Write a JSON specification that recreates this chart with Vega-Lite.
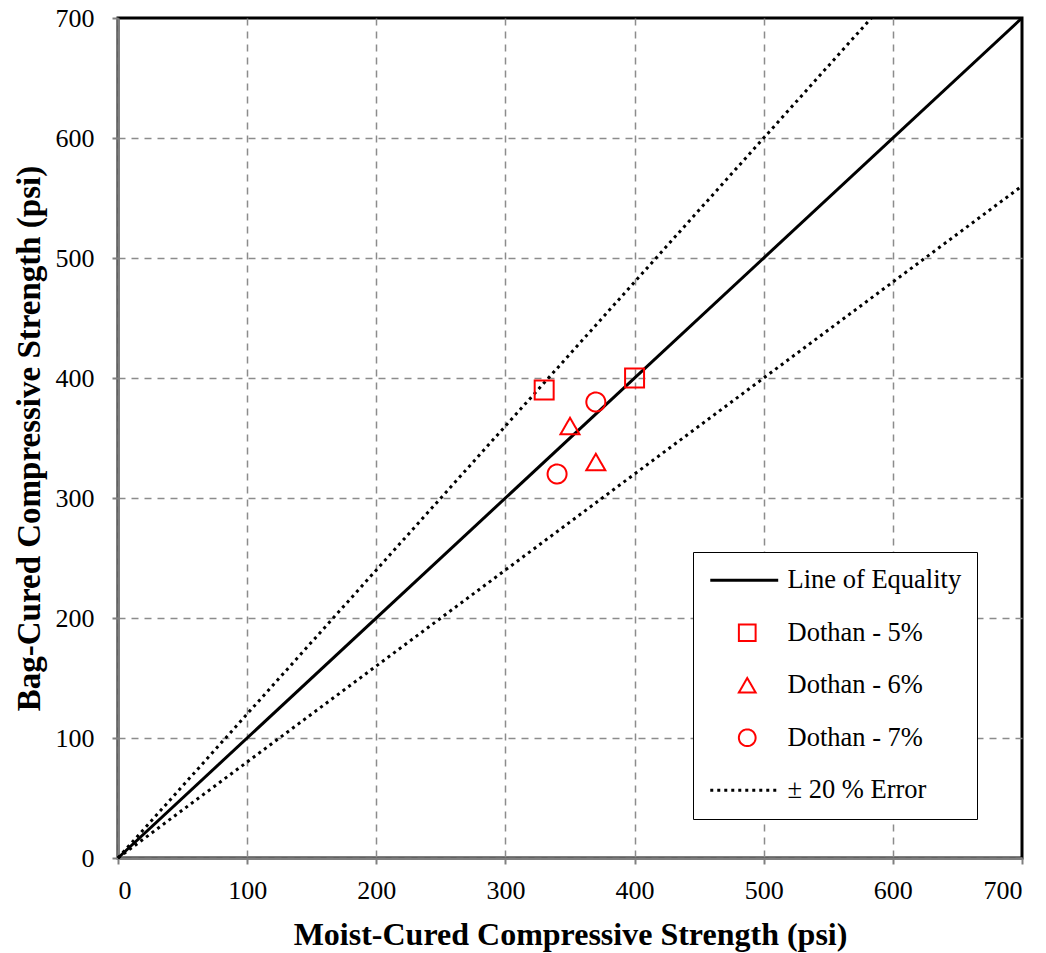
{
  "$schema": "https://vega.github.io/schema/vega-lite/v6.json",
  "width": 904,
  "height": 840,
  "autosize": {"type": "none"},
  "padding": {"left": 118, "top": 18, "right": 24, "bottom": 95},
  "background": "white",
  "config": {
    "font": "Liberation Serif",
    "view": {"stroke": "black", "strokeWidth": 3},
    "axis": {
      "domainColor": "#808080",
      "domainWidth": 2.5,
      "tickColor": "#808080",
      "tickWidth": 2,
      "tickSize": 6,
      "grid": true,
      "gridColor": "#8c8c8c",
      "gridDash": [7, 6],
      "gridWidth": 1.5,
      "gridOpacity": {"condition": {"test": "datum.value === 700", "value": 0}, "value": 1},
      "labelFont": "Liberation Serif",
      "labelFontSize": 26,
      "labelColor": "black",
      "titleFont": "Liberation Serif",
      "titleFontSize": 32,
      "titleFontWeight": "bold",
      "titleColor": "black"
    },
    "axisX": {"labelPadding": 13, "titlePadding": 16},
    "axisY": {"labelPadding": 18, "titlePadding": 9, "titleFontSize": 33},
    "legend": {
      "orient": "none",
      "legendX": 575,
      "legendY": 534,
      "title": null,
      "padding": 15,
      "strokeColor": "black",
      "fillColor": "white",
      "symbolSize": 280,
      "symbolOffset": 26,
      "labelOffset": 27,
      "labelFont": "Liberation Serif",
      "labelFontSize": 26.5,
      "labelColor": "black",
      "labelLimit": 400,
      "rowPadding": 25.5
    }
  },
  "layer": [
    {
      "data": {
        "values": [
          {"ref": "equality", "moist": 0, "bag": 0},
          {"ref": "equality", "moist": 700, "bag": 700}
        ]
      },
      "mark": {"type": "line", "color": "black", "strokeWidth": 3},
      "encoding": {
        "x": {"field": "moist", "type": "quantitative", "scale": {"domain": [0, 700], "nice": false}, "axis": {"values": [0, 100, 200, 300, 400, 500, 600, 700], "title": "Moist-Cured Compressive Strength (psi)"}},
        "y": {"field": "bag", "type": "quantitative", "scale": {"domain": [0, 700], "nice": false}, "axis": {"values": [0, 100, 200, 300, 400, 500, 600, 700], "title": "Bag-Cured Compressive Strength (psi)"}}
      }
    },
    {
      "data": {
        "values": [
          {"ref": "plus 20%", "moist": 0, "bag": 0},
          {"ref": "plus 20%", "moist": 583.33, "bag": 700},
          {"ref": "minus 20%", "moist": 0, "bag": 0},
          {"ref": "minus 20%", "moist": 700, "bag": 560}
        ]
      },
      "mark": {"type": "line", "color": "black", "strokeWidth": 3, "strokeDash": [3, 4]},
      "encoding": {
        "x": {"field": "moist", "type": "quantitative"},
        "y": {"field": "bag", "type": "quantitative"},
        "detail": {"field": "ref", "type": "nominal"}
      }
    },
    {
      "data": {
        "values": [
          {"series": "Dothan - 5%", "moist": 330, "bag": 390},
          {"series": "Dothan - 5%", "moist": 400, "bag": 400},
          {"series": "Dothan - 6%", "moist": 350, "bag": 360},
          {"series": "Dothan - 6%", "moist": 370, "bag": 330},
          {"series": "Dothan - 7%", "moist": 340, "bag": 320},
          {"series": "Dothan - 7%", "moist": 370, "bag": 380}
        ]
      },
      "mark": {"type": "point", "filled": false, "size": 360, "opacity": 1},
      "encoding": {
        "x": {"field": "moist", "type": "quantitative"},
        "y": {"field": "bag", "type": "quantitative"},
        "color": {
          "field": "series", "type": "nominal",
          "scale": {"domain": ["Line of Equality", "Dothan - 5%", "Dothan - 6%", "Dothan - 7%", "± 20 % Error"], "range": ["black", "#ff0000", "#ff0000", "#ff0000", "black"]}
        },
        "shape": {
          "field": "series", "type": "nominal",
          "scale": {"domain": ["Line of Equality", "Dothan - 5%", "Dothan - 6%", "Dothan - 7%", "± 20 % Error"], "range": ["M-4.42,0L3.7,0", "square", "triangle-up", "circle", "M-4.42,0L3.7,0"]}
        },
        "strokeDash": {
          "field": "series", "type": "nominal",
          "scale": {"domain": ["Line of Equality", "Dothan - 5%", "Dothan - 6%", "Dothan - 7%", "± 20 % Error"], "range": [[1, 0], [1, 0], [1, 0], [1, 0], [3, 4]]}
        },
        "strokeWidth": {
          "field": "series", "type": "nominal",
          "scale": {"type": "ordinal", "domain": ["Line of Equality", "Dothan - 5%", "Dothan - 6%", "Dothan - 7%", "± 20 % Error"], "range": [3, 2, 2, 2, 3]}
        }
      }
    }
  ]
}
